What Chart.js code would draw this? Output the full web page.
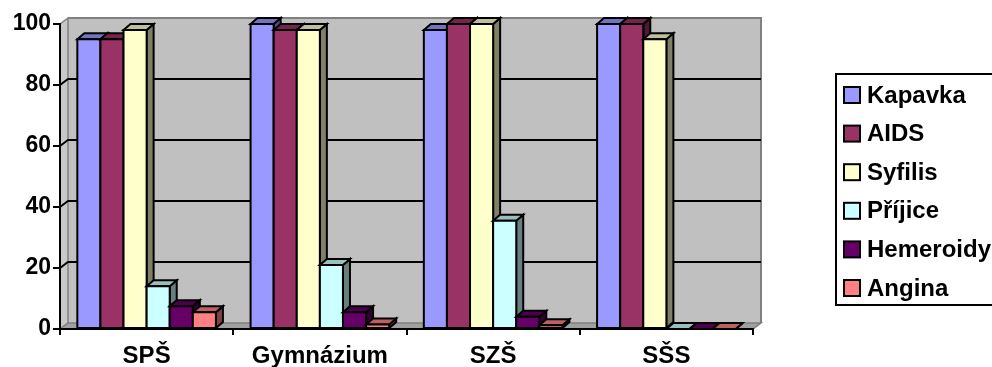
<!DOCTYPE html>
<html>
<head>
<meta charset="utf-8">
<script src="https://cdn.jsdelivr.net/npm/chart.js@4/dist/chart.umd.min.js"></script>
<style>
  html, body { margin: 0; padding: 0; background: #ffffff; }
  #wrap { width: 992px; height: 367px; position: relative; }
</style>
</head>
<body>
<div id="wrap"><canvas id="c" width="992" height="367"></canvas></div>
<script>
// Schools (categories) and answers per disease (percent)
const schools = ['SPŠ', 'Gymnázium', 'SZŠ', 'SŠS'];
const seriesNames = ['Kapavka', 'AIDS', 'Syfilis', 'Příjice', 'Hemeroidy', 'Angina'];
const kapavka   = [95, 100, 98, 100];
const aids      = [95, 98, 100, 100];
const syfilis   = [98, 98, 100, 95];
const prijice   = [14, 21, 35.5, 0];
const hemeroidy = [7.5, 5.5, 4, 0];
const angina    = [5.5, 1.5, 1.2, 0];
const yTicks    = [0, 20, 40, 60, 80, 100];

const seriesValues = [kapavka, aids, syfilis, prijice, hemeroidy, angina];
const seriesColors = ['#9999FF', '#993366', '#FFFFCC', '#CCFFFF', '#660066', '#FF8080'];

const FONT = "'Liberation Sans', Arial, sans-serif";
const WALL_DX = 8, WALL_DY = -6;   // depth of the back wall
const BAR_DX = 7, BAR_DY = -6;     // depth of each column

function shade(hex, f) {
  const n = parseInt(hex.slice(1), 16);
  const r = Math.round(((n >> 16) & 255) * f);
  const g = Math.round(((n >> 8) & 255) * f);
  const b = Math.round((n & 255) * f);
  return 'rgb(' + r + ',' + g + ',' + b + ')';
}

function poly(ctx, pts, fill, stroke, lw) {
  ctx.beginPath();
  ctx.moveTo(pts[0][0], pts[0][1]);
  for (let i = 1; i < pts.length; i++) ctx.lineTo(pts[i][0], pts[i][1]);
  ctx.closePath();
  if (fill) { ctx.fillStyle = fill; ctx.fill(); }
  if (stroke) { ctx.strokeStyle = stroke; ctx.lineWidth = lw; ctx.stroke(); }
}

// Walls, floor and back-wall gridlines of the 3D plot box
const wallsPlugin = {
  id: 'walls',
  beforeDraw(chart) {
    const ctx = chart.ctx;
    const { left, right, top, bottom } = chart.chartArea;
    const y = chart.scales.y;
    ctx.save();
    ctx.lineJoin = 'miter';
    // back wall
    poly(ctx, [[left + WALL_DX, top + WALL_DY], [right + WALL_DX, top + WALL_DY],
               [right + WALL_DX, bottom + WALL_DY], [left + WALL_DX, bottom + WALL_DY]],
         '#C0C0C0', null, 0);
    // left side wall
    poly(ctx, [[left, top], [left + WALL_DX, top + WALL_DY],
               [left + WALL_DX, bottom + WALL_DY], [left, bottom]],
         '#C8C8C8', '#808080', 1.5);
    // floor
    poly(ctx, [[left, bottom], [left + WALL_DX, bottom + WALL_DY],
               [right + WALL_DX, bottom + WALL_DY], [right, bottom]],
         '#A0A0A0', '#808080', 1.5);
    // back wall outline: top and right edges
    ctx.beginPath();
    ctx.moveTo(left + WALL_DX, top + WALL_DY);
    ctx.lineTo(right + WALL_DX, top + WALL_DY);
    ctx.lineTo(right + WALL_DX, bottom + WALL_DY);
    ctx.strokeStyle = '#808080';
    ctx.lineWidth = 2;
    ctx.stroke();
    // gridlines on the side wall and the back wall
    ctx.strokeStyle = '#000000';
    ctx.lineWidth = 2;
    yTicks.forEach(v => {
      if (v === yTicks[0] || v === yTicks[yTicks.length - 1]) return;
      const py = y.getPixelForValue(v);
      ctx.beginPath();
      ctx.moveTo(left, py);
      ctx.lineTo(left + WALL_DX, py + WALL_DY);
      ctx.lineTo(right + WALL_DX, py + WALL_DY);
      ctx.stroke();
    });
    ctx.restore();
  }
};

// Front, top and side faces of every column, drawn left to right
const columnsPlugin = {
  id: 'columns3d',
  afterDatasetsDraw(chart) {
    const ctx = chart.ctx;
    ctx.save();
    ctx.lineJoin = 'miter';
    const nCat = chart.data.labels.length;
    for (let i = 0; i < nCat; i++) {
      chart.data.datasets.forEach((ds, d) => {
        const el = chart.getDatasetMeta(d).data[i];
        if (!el) return;
        const p = el.getProps(['x', 'y', 'base', 'width'], true);
        const l = p.x - p.width / 2, r = p.x + p.width / 2;
        const t = Math.min(p.y, p.base), b = Math.max(p.y, p.base);
        const col = ds.backgroundColor;
        // side face
        poly(ctx, [[r, t], [r + BAR_DX, t + BAR_DY], [r + BAR_DX, b + BAR_DY], [r, b]],
             shade(col, 0.5), '#000000', 2);
        // top face
        poly(ctx, [[l, t], [l + BAR_DX, t + BAR_DY], [r + BAR_DX, t + BAR_DY], [r, t]],
             shade(col, 0.75), '#000000', 2);
        // front face
        poly(ctx, [[l, t], [r, t], [r, b], [l, b]], col, '#000000', 2);
      });
    }
    ctx.restore();
  }
};

// Boxed legend on the right
const legendPlugin = {
  id: 'boxLegend',
  afterDraw(chart) {
    const ctx = chart.ctx;
    const boxL = 836, boxT = 74, boxB = 305;
    const firstY = 95, step = 38.6;
    ctx.save();
    ctx.strokeStyle = '#000000';
    ctx.lineWidth = 2;
    ctx.beginPath();
    ctx.moveTo(1000, boxT);
    ctx.lineTo(boxL, boxT);
    ctx.lineTo(boxL, boxB);
    ctx.lineTo(1000, boxB);
    ctx.stroke();
    ctx.font = 'bold 24px ' + FONT;
    ctx.textBaseline = 'middle';
    ctx.textAlign = 'left';
    chart.data.datasets.forEach((ds, d) => {
      const cy = firstY + d * step;
      ctx.fillStyle = ds.backgroundColor;
      ctx.fillRect(844, cy - 8, 16, 16);
      ctx.lineWidth = 2;
      ctx.strokeRect(844, cy - 8, 16, 16);
      ctx.fillStyle = '#000000';
      ctx.fillText(ds.label, 867, cy + 1);
    });
    ctx.restore();
  }
};

const datasets = seriesNames.map((name, d) => ({
  label: name,
  data: seriesValues[d],
  backgroundColor: seriesColors[d],
  borderColor: '#000000',
  borderWidth: 2,
  categoryPercentage: 0.8,
  barPercentage: 1.0
}));

new Chart(document.getElementById('c'), {
  type: 'bar',
  data: { labels: schools, datasets: datasets },
  options: {
    responsive: false,
    animation: false,
    layout: { padding: { top: 24, right: 239, left: 0, bottom: 0 } },
    plugins: { legend: { display: false }, tooltip: { enabled: false } },
    scales: {
      x: {
        afterFit(scale) { scale.height = 38; },
        grid: { drawOnChartArea: false, drawTicks: true, tickLength: 6, color: '#000000', lineWidth: 2 },
        border: { display: true, color: '#000000', width: 2 },
        ticks: { color: '#000000', padding: 7, font: { family: FONT, size: 24, weight: 'bold' } }
      },
      y: {
        min: 0,
        max: 100,
        afterFit(scale) { scale.width = 60; },
        afterBuildTicks(scale) { scale.ticks = yTicks.map(v => ({ value: v })); },
        grid: { drawOnChartArea: false, drawTicks: true, tickLength: 7, color: '#000000', lineWidth: 2 },
        border: { display: true, color: '#000000', width: 2 },
        ticks: { color: '#000000', padding: 2, font: { family: FONT, size: 23, weight: 'bold' } }
      }
    }
  },
  plugins: [wallsPlugin, columnsPlugin, legendPlugin]
});
</script>
</body>
</html>
